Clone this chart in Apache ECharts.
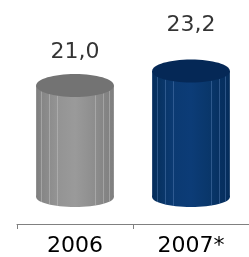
<!DOCTYPE html>
<html>
<head>
<meta charset="utf-8">
<script src="https://cdn.jsdelivr.net/npm/echarts@6/dist/echarts.min.js"></script>
<style>
  html, body { margin: 0; padding: 0; background: #fff; }
  #chart { width: 249px; height: 257px; }
</style>
</head>
<body>
<div id="chart"></div>
<script>
// ---- data ----
const categories = ['2006', '2007*'];
const values = [21.0, 23.2];
const valueLabels = ['21,0', '23,2'];

// ---- styles ----
const bodyStops = [
  [[0, '#7e7e7e'], [0.06, '#858585'], [0.16, '#8c8c8c'], [0.26, '#939393'], [0.5, '#9a9a9a'], [0.76, '#8d8d8d'], [0.86, '#868686'], [1, '#7f7f7f']],
  [[0, '#052c5c'], [0.06, '#07315f'], [0.16, '#09366a'], [0.26, '#0b3a72'], [0.5, '#0c3c77'], [0.76, '#093669'], [0.86, '#073162'], [1, '#052d5c']]
];
const capColors = ['#737373', '#052856'];
const stripeColors = ['rgba(200,200,200,0.45)', 'rgba(90,130,185,0.45)'];
const stripePos = [0.057, 0.164, 0.263, 0.76, 0.864, 0.938];
const FONT = 'DejaVu Sans';

const chart = echarts.init(document.getElementById('chart'), null, { renderer: 'canvas' });

function renderCylinder(params, api) {
  const idx = api.value(0);
  const v = api.value(1);
  const top = api.coord([idx, v]);
  const axisPt = api.coord([idx, 0]);
  const bandW = api.size([1, 0])[0];
  const w = bandW * 0.67;
  const rx = w / 2;
  const ry = 11.5;
  const depth = 27;
  const baseY = axisPt[1] - depth;
  const x0 = top[0] - rx;
  const grad = new echarts.graphic.LinearGradient(0, 0, 1, 0,
    bodyStops[idx].map(s => ({ offset: s[0], color: s[1] })));
  const children = [
    { type: 'ellipse', shape: { cx: top[0], cy: baseY, rx: rx, ry: 10 }, style: { fill: grad } },
    { type: 'rect', shape: { x: x0, y: top[1], width: w, height: baseY - top[1] }, style: { fill: grad } }
  ];
  stripePos.forEach(p => {
    const x = Math.round(x0 + p * w) + 0.5;
    const dy = ry * Math.sqrt(Math.max(0, 1 - Math.pow((x - top[0]) / rx, 2)));
    children.push({
      type: 'line',
      shape: { x1: x, y1: top[1] + dy, x2: x, y2: baseY + dy * 0.87 },
      style: { stroke: stripeColors[idx], lineWidth: 1 }
    });
  });
  children.push({ type: 'ellipse', shape: { cx: top[0], cy: top[1], rx: rx, ry: ry }, style: { fill: capColors[idx] } });
  return { type: 'group', children: children };
}

chart.setOption({
  animation: false,
  grid: { left: 17, width: 242, top: 26, height: 199 },
  xAxis: {
    type: 'category',
    data: categories,
    boundaryGap: true,
    axisLine: { lineStyle: { color: '#808080', width: 1 } },
    axisTick: { show: true, length: 5, lineStyle: { color: '#808080' } },
    axisLabel: { color: '#000', fontFamily: FONT, fontSize: 22, margin: 11 }
  },
  yAxis: [
    { type: 'value', min: 0, max: 30, show: false, splitLine: { show: false } },
    { type: 'value', min: 6.75, max: 23.14, show: false, splitLine: { show: false } }
  ],
  series: [
    {
      type: 'custom',
      renderItem: renderCylinder,
      encode: { x: 0, y: 1 },
      data: values.map((v, i) => [i, v]),
      clip: false
    },
    {
      type: 'scatter',
      yAxisIndex: 1,
      symbolSize: 0,
      clip: false,
      data: values.map((v, i) => [i, v]),
      label: {
        show: true,
        position: 'inside',
        color: '#000',
        fontFamily: FONT,
        fontSize: 22,
        formatter: p => valueLabels[p.dataIndex]
      }
    }
  ]
});
</script>
</body>
</html>
